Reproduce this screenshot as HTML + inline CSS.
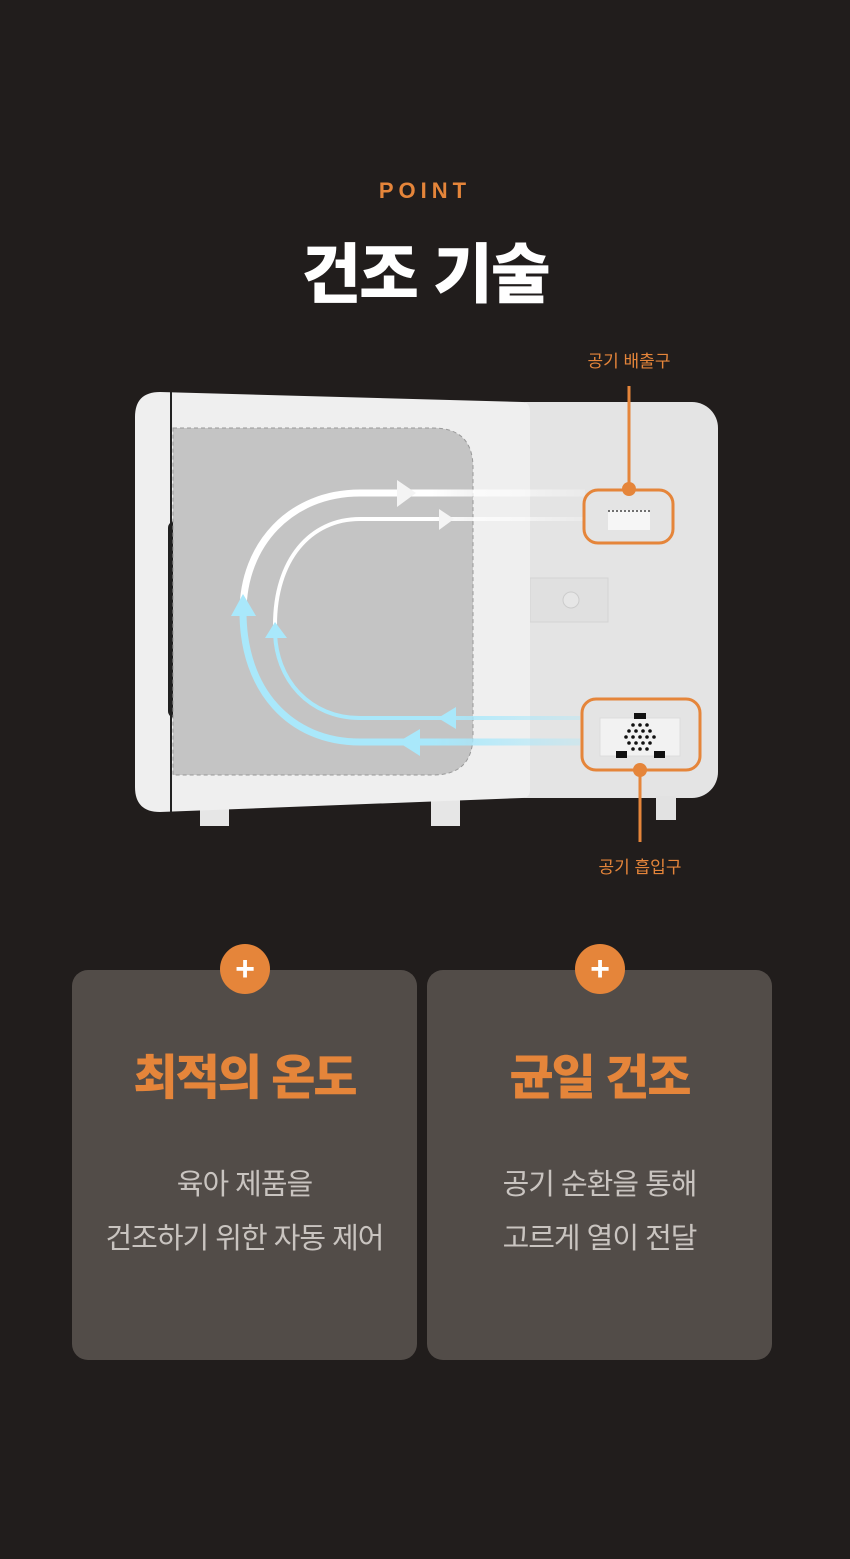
<!DOCTYPE html>
<html><head><meta charset="utf-8"><style>
body{margin:0;width:850px;height:1559px;background:#211d1c;font-family:"Liberation Sans","Noto Sans CJK KR",sans-serif;position:relative;overflow:hidden}
.t{position:absolute;left:0;width:850px;text-align:center}
.card{position:absolute;top:970px;width:345px;height:390px;background:#524c48;border-radius:16px}
.plus{position:absolute;top:-26px;width:50px;height:50px;border-radius:50%;background:#e5853a;left:148px;color:#fff;font-size:34px;font-weight:bold;line-height:50px;text-align:center}
.ct{position:absolute;top:68px;left:0;width:100%;text-align:center;color:#e5853a;font-size:48px;font-weight:900;letter-spacing:-2px}
.cb{position:absolute;top:188px;left:0;width:100%;text-align:center;color:#c9c4c0;font-size:29px;line-height:54px;letter-spacing:-1px}
</style></head><body>
<div class="t" style="top:178px;color:#e5853a;font-size:22px;font-weight:bold;letter-spacing:5px;">POINT</div>
<div class="t" style="top:222px;color:#fff;font-size:65px;font-weight:900;letter-spacing:-2px;">건조 기술</div>

<svg width="850" height="900" style="position:absolute;left:0;top:0" viewBox="0 0 850 900">
<defs>
<linearGradient id="gw" gradientUnits="userSpaceOnUse" x1="240" y1="0" x2="590" y2="0"><stop offset="0.55" stop-color="#fff"/><stop offset="1" stop-color="#fff" stop-opacity="0.2"/></linearGradient>
<linearGradient id="gb" gradientUnits="userSpaceOnUse" x1="240" y1="0" x2="590" y2="0"><stop offset="0.55" stop-color="#a9e8fb"/><stop offset="1" stop-color="#a9e8fb" stop-opacity="0.3"/></linearGradient>
</defs>
<rect x="500" y="402" width="218" height="396" rx="26" fill="#e4e4e4"/>
<rect x="656" y="796" width="20" height="24" fill="#e2e2e2"/>
<rect x="530" y="578" width="78" height="44" fill="#e0e0e0" stroke="#d4d4d4"/>
<circle cx="571" cy="600" r="8" fill="#e6e6e6" stroke="#ccc"/>
<rect x="200" y="806" width="29" height="20" fill="#e6e6e6"/>
<rect x="431" y="798" width="29" height="28" fill="#e6e6e6"/>
<path d="M160 392 L522 402 Q530 402 530 412 L530 790 Q530 798 522 798 L160 812 Q135 812 135 787 L135 417 Q135 392 160 392 Z" fill="#efefef"/>
<line x1="171" y1="392" x2="171" y2="812" stroke="#222" stroke-width="2"/>
<rect x="168" y="521" width="18" height="197" rx="7" fill="#202020"/>
<path d="M173 428 H433 Q473 428 473 468 V735 Q473 775 433 775 H173 Z" fill="#c4c4c4" stroke="#999" stroke-dasharray="4 3"/>
<path d="M585 493 H360 C290 493 243 545 243 612" fill="none" stroke="url(#gw)" stroke-width="7"/>
<path d="M243 612 C243 690 290 742 360 742 H580" fill="none" stroke="url(#gb)" stroke-width="7"/>
<path d="M585 519 H360 C310 519 275 560 275 625" fill="none" stroke="url(#gw)" stroke-width="4"/>
<path d="M275 630 C275 680 310 718 360 718 H580" fill="none" stroke="url(#gb)" stroke-width="4"/>
<polygon points="397,480 416,493 397,507" fill="#f4f4f4"/>
<polygon points="439,509 454,519 439,530" fill="#f4f4f4"/>
<polygon points="231,616 243,594 256,616" fill="#a9e8fb"/>
<polygon points="265,638 275,622 287,638" fill="#a9e8fb"/>
<polygon points="420,729 398,742 420,756" fill="#a9e8fb"/>
<polygon points="456,707 438,718 456,729" fill="#a9e8fb"/>
<rect x="608" y="510" width="42" height="20" fill="#f6f6f6"/>
<line x1="608" y1="511" x2="650" y2="511" stroke="#444" stroke-dasharray="2 2" stroke-width="1.5"/>
<rect x="600" y="718" width="80" height="38" fill="#f2f2f2" stroke="#ddd"/>
<rect x="634" y="713" width="12" height="6" fill="#111"/>
<rect x="616" y="751" width="11" height="7" fill="#111"/>
<rect x="654" y="751" width="11" height="7" fill="#111"/>
<g fill="#111">
<circle cx="633" cy="725" r="1.8"/><circle cx="640" cy="725" r="1.8"/><circle cx="647" cy="725" r="1.8"/>
<circle cx="629" cy="731" r="1.8"/><circle cx="636" cy="731" r="1.8"/><circle cx="643" cy="731" r="1.8"/><circle cx="650" cy="731" r="1.8"/>
<circle cx="626" cy="737" r="1.8"/><circle cx="633" cy="737" r="1.8"/><circle cx="640" cy="737" r="1.8"/><circle cx="647" cy="737" r="1.8"/><circle cx="654" cy="737" r="1.8"/>
<circle cx="629" cy="743" r="1.8"/><circle cx="636" cy="743" r="1.8"/><circle cx="643" cy="743" r="1.8"/><circle cx="650" cy="743" r="1.8"/>
<circle cx="633" cy="749" r="1.8"/><circle cx="640" cy="749" r="1.8"/><circle cx="647" cy="749" r="1.8"/>
</g>
<g stroke="#e5853a" fill="none" stroke-width="3">
<rect x="584" y="490" width="89" height="53" rx="14"/>
<rect x="582" y="699" width="118" height="71" rx="14"/>
<line x1="629" y1="386" x2="629" y2="489"/>
<line x1="640" y1="770" x2="640" y2="842"/>
</g>
<circle cx="629" cy="489" r="7" fill="#e5853a"/>
<circle cx="640" cy="770" r="7" fill="#e5853a"/>
<text x="629" y="367" fill="#e5853a" font-size="17" text-anchor="middle" font-family="Liberation Sans, Noto Sans CJK KR, sans-serif">공기 배출구</text>
<text x="640" y="873" fill="#e5853a" font-size="17" text-anchor="middle" font-family="Liberation Sans, Noto Sans CJK KR, sans-serif">공기 흡입구</text>
</svg>

<div class="card" style="left:72px"><div class="plus" style="left:148px">+</div><div class="ct">최적의 온도</div><div class="cb">육아 제품을<br>건조하기 위한 자동 제어</div></div>
<div class="card" style="left:427px"><div class="plus" style="left:148px">+</div><div class="ct">균일 건조</div><div class="cb">공기 순환을 통해<br>고르게 열이 전달</div></div>
</body></html>
